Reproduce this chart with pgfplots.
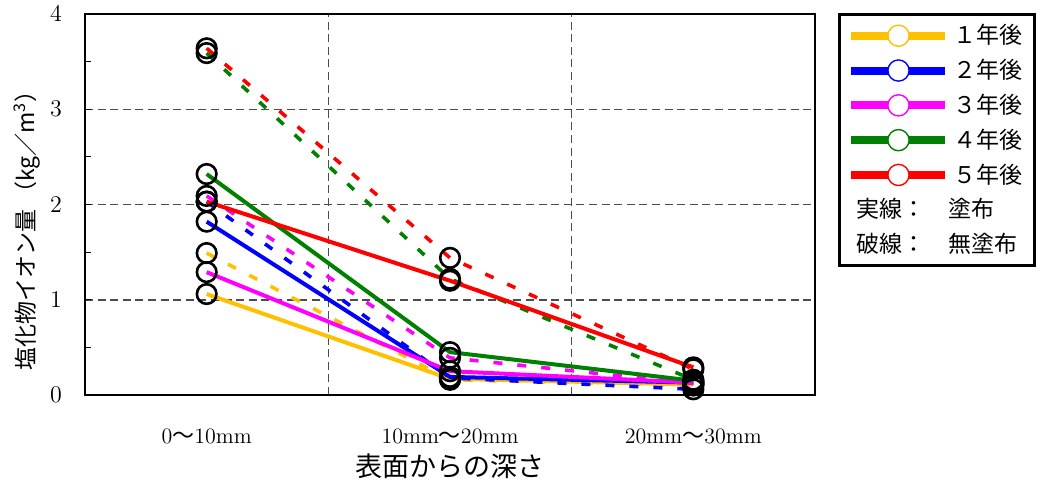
\documentclass[border=0pt]{standalone}
\usepackage{pgfplots}
\usepackage{pgfplotstable}
\pgfplotsset{compat=1.18}
\usepackage{fontspec}
\newfontfamily\cjk{Noto Sans CJK JP}
\definecolor{cY}{HTML}{FFC000}
\definecolor{cB}{HTML}{0000FF}
\definecolor{cM}{HTML}{FF00FF}
\definecolor{cG}{HTML}{008000}
\definecolor{cR}{HTML}{FF0000}
\pgfplotstableread{
x   y1s  y1d  y2s  y2d  y3s  y3d  y4s  y4d  y5s  y5d
0.5 1.06 1.49 1.82 2.03 1.29 2.09 2.32 3.59 2.03 3.64
1.5 0.17 0.16 0.19 0.18 0.25 0.39 0.45 1.22 1.20 1.44
2.5 0.11 0.10 0.13 0.06 0.13 0.12 0.15 0.16 0.29 0.27
}\data
\pgfplotsset{
  sol/.style={line width=2pt, forget plot},
  dsh/.style={line width=1.8pt, dash pattern=on 4.5pt off 7.5pt, forget plot},
  mk/.style={only marks, mark=o, mark size=4.9pt, mark options={draw=black, fill=white, line width=1.3pt, solid}, forget plot},
  myleg/.style={legend image code/.code={%
    \draw[line width=4pt] (0pt,0pt) -- (47pt,0pt);
    \draw[line width=0.7pt, fill=white] (23.5pt,0pt) circle (5.3pt);}},
}
\begin{document}
\begin{tikzpicture}
\useasboundingbox (-42.5pt,-44pt) rectangle (480.5pt,197.5pt);
\begin{axis}[
  at={(0,0)}, anchor=south west,
  scale only axis, width=365pt, height=190.5pt,
  xmin=0, xmax=3, ymin=0, ymax=4,
  xtick={0.5,1.5,2.5},
  xticklabels={{0{\cjk ～}10mm},{10mm{\cjk ～}20mm},{20mm{\cjk ～}30mm}},
  minor xtick={1,2}, xminorgrids,
  ytick={0,1,2,3,4}, minor ytick={0.5,1.5,2.5,3.5}, ymajorgrids,
  major x tick style={draw=none}, minor x tick style={draw=none},
  ytick pos=left, xtick pos=bottom,
  tick align=inside, major tick length=3pt, minor tick length=3pt,
  y tick style={black, line width=0.6pt},
  major grid style={draw=black!70, line width=0.75pt, dash pattern=on 4pt off 2.3pt},
  minor grid style={draw=black!70, line width=0.75pt, dash pattern=on 4pt off 2.3pt},
  axis line style={line width=1pt},
  xticklabel style={anchor=center, yshift=-20.5pt, font=\fontsize{11}{13}\selectfont},
  yticklabel style={anchor=center, xshift=-14.5pt, font=\fontsize{11.5}{13}\selectfont},
  xlabel={\cjk 表面からの深さ},
  xlabel style={at={(axis description cs:0.5,-0.186)}, anchor=center, font=\fontsize{13.5}{15}\selectfont},
  ylabel={\cjk 塩化物イオン量 （kg／m\textsuperscript{3}）},
  ylabel style={at={(axis description cs:-0.0795,0.446)}, anchor=center, rotate=0, font=\fontsize{11.5}{13}\selectfont},
  legend style={at={(1,1)}, anchor=north west, xshift=11.5pt, yshift=0.5pt,
    draw=black, line width=1.5pt, fill=white, row sep=2.2pt,
    inner xsep=4pt, inner ysep=3pt,
    font=\cjk\fontsize{11.5}{13}\selectfont,
    /tikz/column 2/.style={column sep=0pt}},
  legend cell align=left,
]
\addplot[sol, cY] table[x=x, y=y1s] {\data};
\addplot[dsh, cY] table[x=x, y=y1d] {\data};
\addplot[sol, cB] table[x=x, y=y2s] {\data};
\addplot[dsh, cB] table[x=x, y=y2d] {\data};
\addplot[sol, cM] table[x=x, y=y3s] {\data};
\addplot[dsh, cM] table[x=x, y=y3d] {\data};
\addplot[sol, cG] table[x=x, y=y4s] {\data};
\addplot[dsh, cG] table[x=x, y=y4d] {\data};
\addplot[sol, cR] table[x=x, y=y5s] {\data};
\addplot[dsh, cR] table[x=x, y=y5d] {\data};
\foreach \c in {y1s,y1d,y2s,y2d,y3s,y3d,y4s,y4d,y5s,y5d}{
  \addplot[mk] table[x=x, y=\c] {\data};
}
\addlegendimage{cY, myleg}\addlegendentry{１年後}
\addlegendimage{cB, myleg}\addlegendentry{２年後}
\addlegendimage{cM, myleg}\addlegendentry{３年後}
\addlegendimage{cG, myleg}\addlegendentry{４年後}
\addlegendimage{cR, myleg}\addlegendentry{５年後}
\addlegendimage{empty legend}\addlegendentry{\hspace*{-48.5pt}実線：　塗布}
\addlegendimage{empty legend}\addlegendentry{\hspace*{-48.5pt}破線：　無塗布}
\end{axis}
\end{tikzpicture}
\end{document}
